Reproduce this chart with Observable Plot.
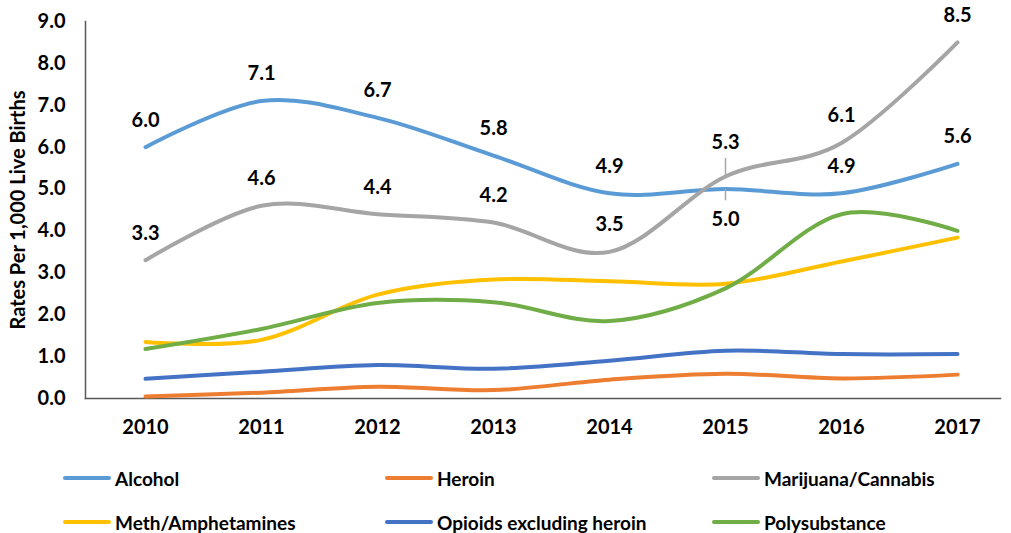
<!DOCTYPE html>
<html>
<head>
<meta charset="utf-8">
<script src="https://cdn.jsdelivr.net/npm/d3@7"></script>
<script src="https://cdn.jsdelivr.net/npm/@observablehq/plot@0.6"></script>
<style>
  html, body { margin: 0; padding: 0; background: #fff; }
  #chart { width: 1011px; }
  .legend { position: relative; width: 1011px; height: 88px; font-family: Lato, "Open Sans", sans-serif; font-weight: bold; font-size: 19px; color: #000; }
  .item { position: absolute; display: flex; align-items: center; height: 24px; }
  .sw { width: 48px; height: 4px; border-radius: 2px; margin-right: 4px; }
</style>
</head>
<body>
<div id="chart"></div>
<script>
const years = [2010, 2011, 2012, 2013, 2014, 2015, 2016, 2017];
const seriesNames = ["Alcohol", "Heroin", "Marijuana/Cannabis", "Meth/Amphetamines", "Opioids excluding heroin", "Polysubstance"];
const seriesColors = ["#5B9BD5", "#ED7D31", "#A5A5A5", "#FFC000", "#4472C4", "#70AD47"];
const alcohol = [6.0, 7.1, 6.7, 5.8, 4.9, 5.0, 4.9, 5.6];
const heroin = [0.05, 0.14, 0.28, 0.2, 0.45, 0.59, 0.48, 0.57];
const marijuana = [3.3, 4.6, 4.4, 4.2, 3.5, 5.3, 6.1, 8.5];
const meth = [1.35, 1.4, 2.48, 2.84, 2.8, 2.74, 3.27, 3.84];
const opioids = [0.47, 0.64, 0.8, 0.71, 0.9, 1.14, 1.06, 1.06];
const poly = [1.18, 1.66, 2.28, 2.3, 1.85, 2.63, 4.4, 4.0];
const yTicks = [0, 1, 2, 3, 4, 5, 6, 7, 8, 9];
const labeledSeries = ["Alcohol", "Marijuana/Cannabis"];
const yTitle = "Rates Per 1,000 Live Births";

const seriesValues = [alcohol, heroin, marijuana, meth, opioids, poly];
const rows = [];
seriesNames.forEach((s, i) => seriesValues[i].forEach((v, j) => rows.push({series: s, year: years[j], value: v})));

const labelRows = rows.filter(d => labeledSeries.includes(d.series));
const key = d => d.series + "|" + d.year;
const belowKeys = new Set(["Alcohol|2015"]);
const leaderAboveKeys = new Set(["Marijuana/Cannabis|2015"]);
const normal = labelRows.filter(d => !belowKeys.has(key(d)) && !leaderAboveKeys.has(key(d)));
const below = labelRows.filter(d => belowKeys.has(key(d)));
const leaderAbove = labelRows.filter(d => leaderAboveKeys.has(key(d)));

const fmt = d => d.value.toFixed(1);
const textOpts = {x: "year", y: "value", text: fmt, fontSize: 20, fontWeight: "bold", fill: "#000"};

const plot = Plot.plot({
  width: 1011,
  height: 445,
  marginLeft: 85,
  marginRight: 11,
  marginTop: 21,
  marginBottom: 47,
  style: {fontFamily: "Lato, 'Open Sans', sans-serif", fontSize: "20px", fontWeight: "bold", color: "#000", background: "#fff"},
  x: {type: "point", domain: years, range: [143, 959], padding: 0},
  y: {domain: [0, 9]},
  color: {domain: seriesNames, range: seriesColors},
  marks: [
    Plot.frame({anchor: "left", stroke: "#595959", strokeWidth: 1.5}),
    Plot.frame({anchor: "bottom", stroke: "#595959", strokeWidth: 1.5}),
    Plot.axisY({ticks: yTicks, tickFormat: d => d.toFixed(1), tickSize: 0, tickPadding: 20, label: null}),
    Plot.axisX({tickSize: 0, tickPadding: 21, tickFormat: d => String(d), label: null}),
    Plot.text([yTitle], {frameAnchor: "left", dx: -67, rotate: -90, text: d => d, fontSize: 20, fontWeight: "bold", fill: "#000", textAnchor: "middle", lineAnchor: "middle"}),
    Plot.line(rows, {x: "year", y: "value", z: "series", stroke: "series", strokeWidth: 4, strokeLinecap: "round", curve: d3.curveCatmullRom.alpha(0)}),
    Plot.ruleX(leaderAbove, {x: "year", y1: "value", y2: d => d.value + 0.43, stroke: "#A6A6A6", strokeWidth: 1.5}),
    Plot.ruleX(below, {x: "year", y1: "value", y2: d => d.value - 0.28, stroke: "#A6A6A6", strokeWidth: 1.5}),
    Plot.text(normal, {...textOpts, dy: -27}),
    Plot.text(leaderAbove, {...textOpts, dy: -34}),
    Plot.text(below, {...textOpts, dy: 31})
  ]
});
document.getElementById("chart").appendChild(plot);

// legend below the SVG
const legendPos = [[63, 21], [385, 21], [712, 21], [63, 65], [385, 65], [712, 65]];
const legend = document.createElement("div");
legend.className = "legend";
seriesNames.forEach((s, i) => {
  const it = document.createElement("div");
  it.className = "item";
  it.style.left = legendPos[i][0] + "px";
  it.style.top = legendPos[i][1] + "px";
  const sw = document.createElement("div");
  sw.className = "sw";
  sw.style.background = seriesColors[i];
  const tx = document.createElement("span");
  tx.textContent = s;
  it.appendChild(sw);
  it.appendChild(tx);
  legend.appendChild(it);
});
document.getElementById("chart").appendChild(legend);
</script>
</body>
</html>
